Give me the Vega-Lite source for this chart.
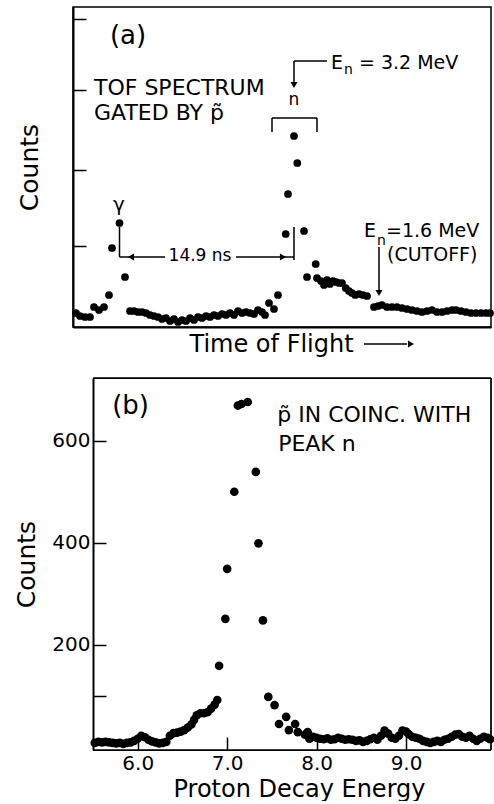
{
  "$schema": "https://vega.github.io/schema/vega-lite/v6.json",
  "background": "white",
  "padding": {"left": 14, "top": 6, "right": 0, "bottom": 0},
  "spacing": 20,
  "config": {
    "view": {"stroke": "black", "strokeWidth": 1.5},
    "axis": {"grid": false, "domainColor": "black", "domainWidth": 2, "tickColor": "black", "tickWidth": 1.5, "tickSize": -13, "labelColor": "black", "titleColor": "black", "labelFont": "DejaVu Sans", "titleFont": "DejaVu Sans", "labelFontSize": 20, "titleFontSize": 25, "titleFontWeight": "normal"},
    "text": {"font": "DejaVu Sans", "color": "black"},
    "rule": {"color": "black", "strokeWidth": 1.5}
  },
  "datasets": {
    "tofA": [
      {"t":3,"c":14},{"t":7,"c":11},{"t":12,"c":10},{"t":17,"c":10},{"t":21,"c":20},{"t":26,"c":17},{"t":31,"c":20},{"t":36,"c":32},{"t":39,"c":79},{"t":46.5,"c":104},{"t":52,"c":50},
      {"t":57,"c":16},{"t":61,"c":16},{"t":65,"c":15},{"t":69,"c":15},{"t":73,"c":14},{"t":77,"c":12},{"t":81,"c":11},{"t":85,"c":10},{"t":89,"c":8},{"t":93,"c":9},{"t":97,"c":6},{"t":101,"c":8},{"t":105,"c":5},{"t":109,"c":7},{"t":113,"c":6},{"t":117,"c":9},{"t":121,"c":7},{"t":125,"c":10},{"t":129,"c":9},{"t":133,"c":11},{"t":137,"c":10},{"t":141,"c":12},{"t":145,"c":11},{"t":149,"c":13},{"t":153,"c":12},{"t":157,"c":14},{"t":161,"c":12},{"t":165,"c":16},{"t":169,"c":14},{"t":173,"c":15},{"t":177,"c":14},{"t":181,"c":13},{"t":185,"c":17},{"t":189,"c":15},{"t":192,"c":12},{"t":196,"c":24},{"t":201,"c":18},{"t":205,"c":32},
      {"t":212.7,"c":93},{"t":215,"c":133},{"t":221,"c":191},{"t":224.3,"c":164},{"t":231,"c":96},{"t":234,"c":50},{"t":242.7,"c":63},{"t":244,"c":49},{"t":248,"c":46},{"t":251,"c":42},{"t":254,"c":47},{"t":257,"c":43},{"t":260,"c":46},{"t":263,"c":45},{"t":266,"c":44},{"t":269,"c":44},{"t":272.7,"c":39},{"t":276,"c":36},{"t":279,"c":34},{"t":282.3,"c":32},{"t":286,"c":33},{"t":290,"c":32},{"t":294,"c":31},
      {"t":301,"c":20},{"t":305,"c":21},{"t":309,"c":22},{"t":314,"c":20},{"t":319,"c":20},{"t":324,"c":20},{"t":329,"c":19},{"t":334,"c":18},{"t":339,"c":17},{"t":344,"c":16},{"t":349,"c":15},{"t":354,"c":16},{"t":359,"c":17},{"t":364,"c":15},{"t":369,"c":15},{"t":374,"c":16},{"t":379,"c":17},{"t":383,"c":17},{"t":388,"c":16},{"t":393,"c":15},{"t":398,"c":14},{"t":403,"c":14},{"t":408,"c":14},{"t":413,"c":14},{"t":417,"c":14}
    ],
    "annA26": [{"t":55,"c":291,"label":"(a)"}],
    "annA22": [{"t":21,"c":239,"label":"TOF SPECTRUM"},{"t":21,"c":214,"label":"GATED BY p̃"}],
    "annA19": [{"t":258,"c":264,"label":"E"},{"t":286,"c":264,"label":"= 3.2 MeV"},{"t":291,"c":96,"label":"E"},{"t":313,"c":96,"label":"=1.6 MeV"},{"t":314,"c":72,"label":"(CUTOFF)"}],
    "annAsub": [{"t":271,"c":257,"label":"n"},{"t":304,"c":86,"label":"n"}],
    "annA17": [{"t":127,"c":71,"label":"14.9 ns"},{"t":221,"c":227,"label":"n"}],
    "annA20": [{"t":46,"c":122,"label":"γ"}],
    "segA": [
      {"t":46.5,"t2":46.5,"c":100,"c2":70},
      {"t":46.5,"t2":92,"c":70,"c2":70},
      {"t":163,"t2":221,"c":70,"c2":70},
      {"t":221,"t2":221,"c":67,"c2":100},
      {"t":221,"t2":254,"c":266,"c2":266},
      {"t":221,"t2":221,"c":266,"c2":245},
      {"t":199,"t2":244,"c":209,"c2":209},
      {"t":199,"t2":199,"c":209,"c2":195},
      {"t":244,"t2":244,"c":209,"c2":195},
      {"t":306,"t2":306,"c":80,"c2":36},
      {"t":291,"t2":334,"c":-17,"c2":-17}
    ],
    "headDown": [{"t":221,"c":242},{"t":306,"c":34}],
    "headLeft": [{"t":58,"c":70}],
    "headRight": [{"t":210,"c":70},{"t":338,"c":-17}],
    "protonB": [
      {"e":5.52,"n":8},{"e":5.56,"n":10},{"e":5.60,"n":9},{"e":5.64,"n":10},{"e":5.68,"n":9},{"e":5.72,"n":8},{"e":5.76,"n":7},{"e":5.80,"n":8},{"e":5.84,"n":6},{"e":5.88,"n":8},{"e":5.92,"n":9},{"e":5.96,"n":12},{"e":6.00,"n":16},{"e":6.04,"n":22},{"e":6.08,"n":19},{"e":6.12,"n":14},{"e":6.16,"n":11},{"e":6.20,"n":9},{"e":6.24,"n":7},{"e":6.28,"n":8},{"e":6.32,"n":10},{"e":6.36,"n":22},{"e":6.40,"n":27},{"e":6.44,"n":28},{"e":6.48,"n":30},{"e":6.52,"n":33},{"e":6.56,"n":38},{"e":6.60,"n":44},{"e":6.63,"n":53},{"e":6.66,"n":62},{"e":6.70,"n":66},{"e":6.74,"n":66},{"e":6.78,"n":68},{"e":6.82,"n":75},{"e":6.86,"n":83},{"e":6.89,"n":92},
      {"e":6.91,"n":159},{"e":6.98,"n":251},{"e":7.00,"n":349},{"e":7.08,"n":500},{"e":7.12,"n":669},{"e":7.16,"n":672},{"e":7.23,"n":676},{"e":7.32,"n":539},{"e":7.35,"n":399},{"e":7.40,"n":248},{"e":7.46,"n":98},{"e":7.53,"n":82},{"e":7.58,"n":45},{"e":7.66,"n":59},{"e":7.69,"n":33},{"e":7.76,"n":45},{"e":7.79,"n":29},{"e":7.87,"n":24},{"e":7.90,"n":29},{"e":7.92,"n":16},
      {"e":7.96,"n":20},{"e":8.00,"n":18},{"e":8.04,"n":16},{"e":8.08,"n":15},{"e":8.12,"n":17},{"e":8.16,"n":14},{"e":8.20,"n":15},{"e":8.24,"n":18},{"e":8.28,"n":16},{"e":8.32,"n":14},{"e":8.36,"n":15},{"e":8.40,"n":14},{"e":8.44,"n":12},{"e":8.48,"n":13},{"e":8.52,"n":10},{"e":8.56,"n":12},{"e":8.60,"n":15},{"e":8.64,"n":18},{"e":8.68,"n":14},{"e":8.72,"n":22},{"e":8.76,"n":32},{"e":8.80,"n":26},{"e":8.84,"n":18},{"e":8.88,"n":16},{"e":8.92,"n":22},{"e":8.96,"n":32},{"e":9.00,"n":30},{"e":9.03,"n":25},{"e":9.07,"n":20},{"e":9.11,"n":18},{"e":9.15,"n":16},{"e":9.19,"n":12},{"e":9.23,"n":10},{"e":9.27,"n":8},{"e":9.31,"n":10},{"e":9.35,"n":12},{"e":9.39,"n":10},{"e":9.43,"n":14},{"e":9.47,"n":16},{"e":9.51,"n":20},{"e":9.55,"n":24},{"e":9.59,"n":25},{"e":9.63,"n":20},{"e":9.67,"n":18},{"e":9.71,"n":22},{"e":9.75,"n":16},{"e":9.79,"n":12},{"e":9.83,"n":16},{"e":9.87,"n":20},{"e":9.91,"n":18},{"e":9.94,"n":15}
    ],
    "frameB": [
      {"e":5.5,"e2":9.95,"n":723,"n2":723},
      {"e":9.95,"e2":9.95,"n":-6,"n2":723},
      {"e":5.5,"e2":9.95,"n":-6,"n2":-6}
    ],
    "annB26": [{"e":5.92,"n":669,"label":"(b)"}],
    "annB22": [{"e":7.56,"n":651,"label":"p̃ IN COINC. WITH"},{"e":7.57,"n":594,"label":"PEAK n"}]
  },
  "vconcat": [
    {
      "width": 418,
      "height": 320,
      "encoding": {
        "x": {"field": "t", "type": "quantitative", "scale": {"domain": [0, 418], "nice": false, "zero": false}, "axis": {"title": "Time of Flight", "titleFontSize": 24, "ticks": false, "labels": false, "titleX": 116, "titleAlign": "left", "titlePadding": 5}},
        "y": {"field": "c", "type": "quantitative", "scale": {"domain": [0, 320], "nice": false, "zero": false}, "axis": {"title": "Counts", "values": [81, 157, 237, 308], "labels": false, "titlePadding": 30}}
      },
      "layer": [
        {"data": {"name": "tofA"}, "mark": {"type": "point", "filled": true, "size": 60, "color": "black", "opacity": 1}},
        {"data": {"name": "segA"}, "mark": {"type": "rule", "color": "black", "strokeWidth": 1.5}, "encoding": {"x2": {"field": "t2"}, "y2": {"field": "c2"}}},
        {"data": {"name": "headDown"}, "mark": {"type": "point", "shape": "triangle-down", "filled": true, "size": 50, "color": "black", "opacity": 1}},
        {"data": {"name": "headLeft"}, "mark": {"type": "point", "shape": "triangle-left", "filled": true, "size": 50, "color": "black", "opacity": 1}},
        {"data": {"name": "headRight"}, "mark": {"type": "point", "shape": "triangle-right", "filled": true, "size": 50, "color": "black", "opacity": 1}},
        {"data": {"name": "annA26"}, "mark": {"type": "text", "fontSize": 26, "align": "center", "baseline": "middle"}, "encoding": {"text": {"field": "label"}}},
        {"data": {"name": "annA22"}, "mark": {"type": "text", "fontSize": 22, "align": "left", "baseline": "middle"}, "encoding": {"text": {"field": "label"}}},
        {"data": {"name": "annA19"}, "mark": {"type": "text", "fontSize": 19, "align": "left", "baseline": "middle"}, "encoding": {"text": {"field": "label"}}},
        {"data": {"name": "annAsub"}, "mark": {"type": "text", "fontSize": 14, "align": "left", "baseline": "middle"}, "encoding": {"text": {"field": "label"}}},
        {"data": {"name": "annA17"}, "mark": {"type": "text", "fontSize": 17, "align": "center", "baseline": "middle"}, "encoding": {"text": {"field": "label"}}},
        {"data": {"name": "annA20"}, "mark": {"type": "text", "fontSize": 20, "align": "center", "baseline": "middle"}, "encoding": {"text": {"field": "label"}}}
      ]
    },
    {
      "width": 418,
      "height": 372,
      "view": {"stroke": null},
      "encoding": {
        "x": {"field": "e", "type": "quantitative", "scale": {"domain": [5.2764, 9.95], "nice": false, "zero": false}, "axis": {"title": "Proton Decay Energy", "titleFontSize": 24, "titleX": 226, "domain": false, "values": [6, 7, 8, 9], "format": ".1f", "labelPadding": 16, "titlePadding": 4}},
        "y": {"field": "n", "type": "quantitative", "scale": {"domain": [-6, 723], "nice": false, "zero": false}, "axis": {"title": "Counts", "offset": -20, "values": [100, 200, 400, 600], "labelExpr": "datum.value == 100 ? '' : datum.label", "labelPadding": 16, "titlePadding": 12}}
      },
      "layer": [
        {"data": {"name": "frameB"}, "mark": {"type": "rule", "color": "black", "strokeWidth": 1.75}, "encoding": {"x2": {"field": "e2"}, "y2": {"field": "n2"}}},
        {"data": {"name": "protonB"}, "mark": {"type": "point", "filled": true, "size": 75, "color": "black", "opacity": 1}},
        {"data": {"name": "annB26"}, "mark": {"type": "text", "fontSize": 26, "align": "center", "baseline": "middle"}, "encoding": {"text": {"field": "label"}}},
        {"data": {"name": "annB22"}, "mark": {"type": "text", "fontSize": 22, "align": "left", "baseline": "middle"}, "encoding": {"text": {"field": "label"}}}
      ]
    }
  ]
}
